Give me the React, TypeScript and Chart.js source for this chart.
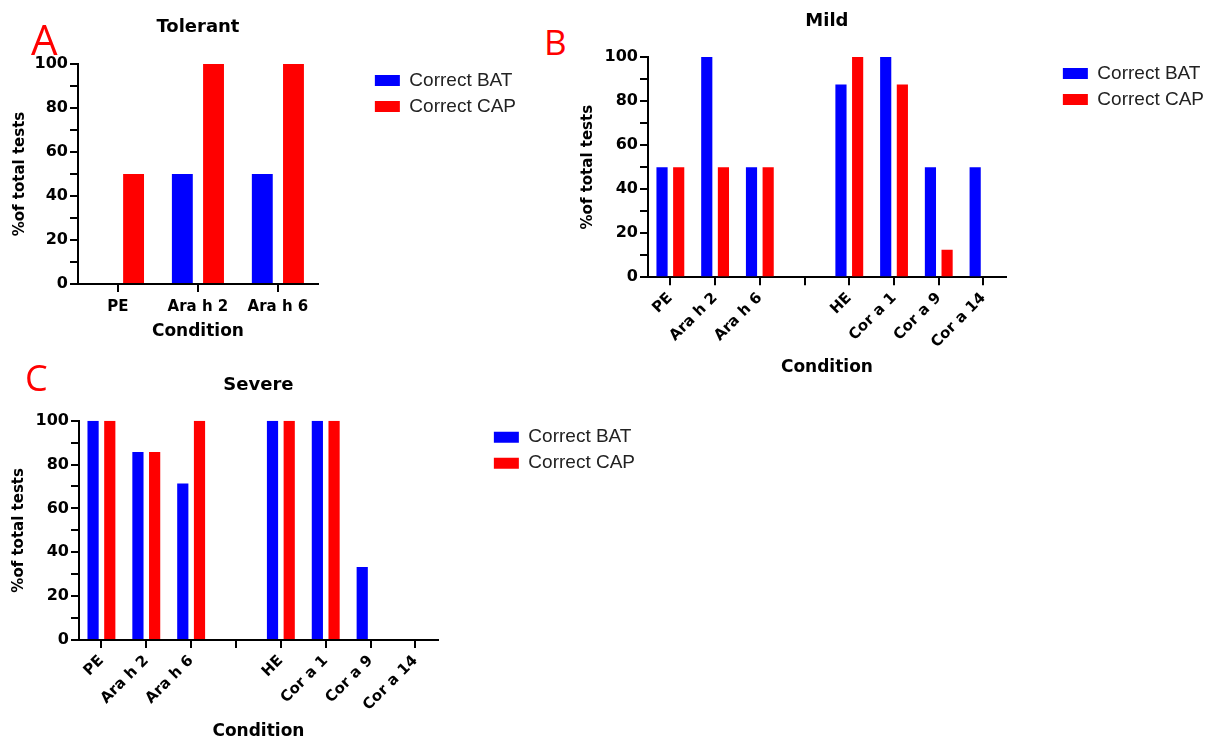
import React, { useEffect, useRef } from 'react';
import { Chart, registerables } from 'chart.js';

Chart.register(...registerables);

// ---------- data ----------
const tolerantCategories = ['PE', 'Ara h 2', 'Ara h 6'];
const tolerantBAT = [0, 50, 50];
const tolerantCAP = [50, 100, 100];

const allergenCategories = ['PE', 'Ara h 2', 'Ara h 6', '', 'HE', 'Cor a 1', 'Cor a 9', 'Cor a 14'];
const mildBAT = [50, 100, 50, null, 87.5, 100, 50, 50];
const mildCAP = [50, 50, 50, null, 100, 87.5, 12.5, 0];
const severeBAT = [100, 85.7, 71.4, null, 100, 100, 33.3, 0];
const severeCAP = [100, 85.7, 100, null, 100, 100, 0, 0];

const seriesNames = ['Correct BAT', 'Correct CAP'];
const seriesColors = ['#0000ff', '#ff0000'];
const yLabeledStep = 20;
const yMinorStep = 10;
const yMax = 100;
const yTitle = '%of total tests';
const xTitle = 'Condition';

const BOLD = '"DejaVu Sans", "Liberation Sans", sans-serif';
const REG = '"Liberation Sans", Arial, sans-serif';

type PanelProps = {
  title: string;
  categories: string[];
  bat: (number | null)[];
  cap: (number | null)[];
  left: number;
  top: number;
  width: number;
  height: number;
  yW: number;
  gapW: number;
  xH: number;
  titlePadTop: number;
  titlePadBottom: number;
  xTitlePad: number;
  yTitlePad: number;
  rotate: number;
  catPct: number;
  tickPad: number;
};

function Panel(p: PanelProps) {
  const ref = useRef<HTMLCanvasElement>(null);
  useEffect(() => {
    const axisColor = '#000';
    const chart = new Chart(ref.current as HTMLCanvasElement, {
      type: 'bar',
      data: {
        labels: p.categories,
        datasets: [
          { label: seriesNames[0], data: p.bat, backgroundColor: seriesColors[0], borderWidth: 0 },
          { label: seriesNames[1], data: p.cap, backgroundColor: seriesColors[1], borderWidth: 0 },
        ],
      },
      options: {
        animation: false,
        responsive: false,
        devicePixelRatio: 1,
        layout: { padding: 0 },
        datasets: { bar: { barPercentage: 0.67, categoryPercentage: p.catPct } },
        plugins: {
          tooltip: { enabled: false },
          title: {
            display: true,
            text: p.title,
            fullSize: false,
            color: '#000',
            font: { family: BOLD, size: 18, weight: 'bold' },
            padding: { top: p.titlePadTop, bottom: p.titlePadBottom },
          },
          legend: {
            display: true,
            position: 'right',
            align: 'start',
            fullSize: false,
            maxWidth: 260,
            labels: {
              boxWidth: 25,
              boxHeight: 11,
              padding: 7,
              color: '#222',
              font: { family: REG, size: 19 },
            },
          },
        },
        scales: {
          x: {
            type: 'category',
            offset: true,
            grid: {
              display: true,
              offset: false,
              drawOnChartArea: false,
              drawTicks: true,
              tickLength: 8,
              color: axisColor,
              lineWidth: 2,
            },
            border: { display: true, color: axisColor, width: 2 },
            ticks: {
              color: '#000',
              font: { family: BOLD, size: 15, weight: 'bold' },
              maxRotation: p.rotate,
              minRotation: p.rotate,
              autoSkip: false,
              padding: p.tickPad,
            },
            title: {
              display: true,
              text: xTitle,
              color: '#000',
              font: { family: BOLD, size: 17, weight: 'bold' },
              padding: { top: 0, bottom: p.xTitlePad },
            },
            afterFit: (s: any) => {
              s.height = p.xH;
            },
          },
          y: {
            type: 'linear',
            min: 0,
            max: yMax,
            grid: {
              display: true,
              drawOnChartArea: false,
              drawTicks: true,
              tickLength: 8,
              color: axisColor,
              lineWidth: 2,
            },
            border: { display: true, color: axisColor, width: 2 },
            ticks: {
              stepSize: yMinorStep,
              autoSkip: false,
              color: '#000',
              padding: 2,
              font: { family: BOLD, size: 16, weight: 'bold' },
              callback: (v: any) => (Number(v) % yLabeledStep === 0 ? String(v) : ''),
            },
            title: {
              display: true,
              text: yTitle,
              color: '#000',
              font: { family: BOLD, size: 15, weight: 'bold' },
              padding: { top: p.yTitlePad, bottom: 0 },
            },
            afterFit: (s: any) => {
              s.width = p.yW;
            },
          },
          gap: {
            type: 'linear',
            position: 'right',
            display: true,
            grid: { display: false },
            border: { display: false },
            ticks: { display: false },
            afterFit: (s: any) => {
              s.width = p.gapW;
            },
          },
        },
      } as any,
    });
    return () => chart.destroy();
  }, []);
  return (
    <canvas
      ref={ref}
      width={p.width}
      height={p.height}
      style={{ position: 'absolute', left: p.left, top: p.top, width: p.width, height: p.height, display: 'block' }}
    />
  );
}

const letterStyle: React.CSSProperties = {
  position: 'absolute',
  color: '#ff0000',
  fontFamily: '"Open Sans", "Liberation Sans", sans-serif',
  fontWeight: 400,
  lineHeight: 1,
  margin: 0,
};

export default function App() {
  return (
    <div
      style={{
        position: 'absolute',
        left: 0,
        top: 0,
        width: 1220,
        height: 738,
        overflow: 'hidden',
        background: '#fff',
      }}
    >
      <Panel
        title="Tolerant"
        categories={tolerantCategories}
        bat={tolerantBAT}
        cap={tolerantCAP}
        left={0}
        top={0}
        width={526}
        height={347}
        yW={78}
        gapW={50}
        xH={63}
        titlePadTop={17}
        titlePadBottom={25.4}
        xTitlePad={4.8}
        yTitlePad={11}
        rotate={0}
        catPct={0.78}
        tickPad={6}
      />
      <Panel
        title="Mild"
        categories={allergenCategories}
        bat={mildBAT}
        cap={mildCAP}
        left={570}
        top={0}
        width={644}
        height={382}
        yW={78}
        gapW={50}
        xH={104.7}
        titlePadTop={10.2}
        titlePadBottom={25.2}
        xTitlePad={4.1}
        yTitlePad={9.6}
        rotate={45}
        catPct={0.745}
        tickPad={4}
      />
      <Panel
        title="Severe"
        categories={allergenCategories}
        bat={severeBAT}
        cap={severeCAP}
        left={0}
        top={360}
        width={645}
        height={382}
        yW={79}
        gapW={49}
        xH={102}
        titlePadTop={14.2}
        titlePadBottom={24.9}
        xTitlePad={0.3}
        yTitlePad={10}
        rotate={45}
        catPct={0.745}
        tickPad={4}
      />
      <div style={{ ...letterStyle, left: 31, top: 17.7, fontSize: 42 }}>A</div>
      <div style={{ ...letterStyle, left: 544, top: 24, fontSize: 35 }}>B</div>
      <div style={{ ...letterStyle, left: 25, top: 359.5, fontSize: 36 }}>C</div>
    </div>
  );
}
